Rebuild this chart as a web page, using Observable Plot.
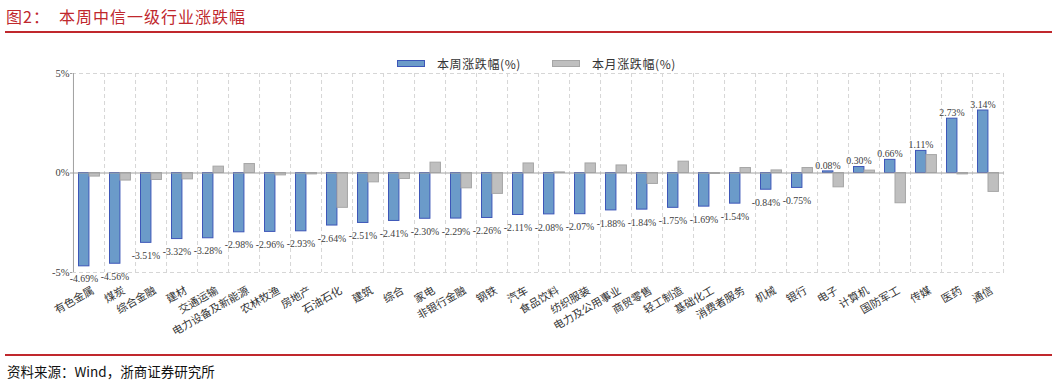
<!DOCTYPE html>
<html>
<head>
<meta charset="utf-8">
<script src="https://cdn.jsdelivr.net/npm/d3@7"></script>
<script src="https://cdn.jsdelivr.net/npm/@observablehq/plot@0.6"></script>
<style>
  html, body { margin: 0; padding: 0; background: #fff; }
  #wrap { position: relative; width: 1057px; height: 385px; overflow: hidden; background: #fff; }
  .title { position: absolute; left: 6px; top: 4px; font-family: "Noto Sans CJK SC", sans-serif; font-size: 16px; color: #c0282d; white-space: pre; letter-spacing: 1px; }
  .rline { position: absolute; left: 5px; width: 1047px; height: 1.5px; background: #c0282d; }
  .source { position: absolute; left: 7px; top: 361px; font-family: "Noto Sans CJK SC", sans-serif; font-size: 13.5px; color: #111; white-space: pre; }
  .legend { position: absolute; top: 55px; left: 0; font-family: "Noto Sans CJK SC", sans-serif; font-size: 12px; color: #333; }
  .legend .sw { position: absolute; width: 28px; height: 7px; top: 5px; }
  .legend .lt { position: absolute; top: 0; white-space: pre; letter-spacing: 0.6px; }
  #chart { position: absolute; left: 0; top: 66px; }
</style>
</head>
<body>
<div id="wrap">
  <div class="title">图2：  本周中信一级行业涨跌幅</div>
  <div class="rline" style="top:31px"></div>
  <div class="legend" id="legend"></div>
  <div id="chart"></div>
  <div class="rline" style="top:354px"></div>
  <div class="source">资料来源：Wind，浙商证券研究所</div>
</div>
<script>
const categories = ["有色金属","煤炭","综合金融","建材","交通运输","电力设备及新能源","农林牧渔","房地产","石油石化","建筑","综合","家电","非银行金融","钢铁","汽车","食品饮料","纺织服装","电力及公用事业","商贸零售","轻工制造","基础化工","消费者服务","机械","银行","电子","计算机","国防军工","传媒","医药","通信"];
const weekChange = [-4.69,-4.56,-3.51,-3.32,-3.28,-2.98,-2.96,-2.93,-2.64,-2.51,-2.41,-2.30,-2.29,-2.26,-2.11,-2.08,-2.07,-1.88,-1.84,-1.75,-1.69,-1.54,-0.84,-0.75,0.08,0.30,0.66,1.11,2.73,3.14];
const monthChange = [-0.18,-0.38,-0.35,-0.32,0.32,0.45,-0.12,-0.07,-1.75,-0.47,-0.30,0.52,-0.77,-1.05,0.48,0.03,0.48,0.38,-0.55,0.57,-0.05,0.25,0.13,0.25,-0.72,0.12,-1.52,0.90,-0.07,-0.95];
const seriesNames = ["本周涨跌幅(%)","本月涨跌幅(%)"];
const yTicks = [-5, 0, 5];

const data = categories.map((c, i) => ({cat: c, week: weekChange[i], month: monthChange[i]}));

const W = 1057, H = 280, ML = 72, MR = 53, MT = 7, MB = 74;
const bw = (W - ML - MR) / categories.length;
const blueFill = "#6b9bc9", blueStroke = "#3d56b8";
const grayFill = "#bfbfbf", grayStroke = "#a6a6a6";
const serif = "'Liberation Serif', 'Times New Roman', serif";

const fmt = d => d.toFixed(2) + "%";
const labelDx = 10.5 - bw / 2;

const chart = Plot.plot({
  width: W, height: H,
  marginLeft: ML, marginRight: MR, marginTop: MT, marginBottom: MB,
  x: {domain: categories, padding: 0, label: null},
  y: {domain: [-5, 5], label: null},
  style: {background: "transparent", overflow: "visible"},
  marks: [
    Plot.ruleX(categories, {x: d => d, dx: bw / 2, stroke: "#d6d6d6", strokeDasharray: "4,3"}),
    Plot.ruleY([-5, 5], {stroke: "#d6d6d6", strokeDasharray: "4,3"}),
    Plot.barY(data, {x: "cat", y: "week", fill: blueFill, stroke: blueStroke, strokeWidth: 1, insetLeft: 5.5, insetRight: bw - 16}),
    Plot.barY(data, {x: "cat", y: "month", fill: grayFill, stroke: grayStroke, strokeWidth: 1, insetLeft: 16, insetRight: bw - 26.5}),
    Plot.ruleY([0], {stroke: "#a0a0a0", strokeWidth: 1}),
    Plot.ruleX([categories[0]], {x: d => d, dx: -bw / 2, stroke: "#a0a0a0"}),
    Plot.text(data.filter(d => d.week < 0), {x: "cat", y: "week", text: d => fmt(d.week), dx: labelDx, dy: 13, fontFamily: serif, fontSize: 9.8, fill: "#404040"}),
    Plot.text(data.filter(d => d.week >= 0), {x: "cat", y: "week", text: d => fmt(d.week), dx: labelDx, dy: -6, fontFamily: serif, fontSize: 9.8, fill: "#404040"}),
    Plot.axisY({ticks: yTicks, tickFormat: d => d + "%", tickSize: 2, tickPadding: 1, fontFamily: serif, fontSize: 10.5, color: "#404040", stroke: "#a0a0a0"}),
    Plot.axisX({tickRotate: -30, tickSize: 0, tickPadding: 17, dx: 4, fontFamily: "'Noto Sans CJK SC', sans-serif", fontSize: 10.8, fill: "#333"})
  ]
});
document.getElementById("chart").appendChild(chart);

// legend
const legend = document.getElementById("legend");
const legendItems = [
  {name: seriesNames[0], fill: blueFill, stroke: blueStroke, sx: 397, tx: 437},
  {name: seriesNames[1], fill: grayFill, stroke: grayStroke, sx: 552, tx: 592}
];
legendItems.forEach(it => {
  const sw = document.createElement("div");
  sw.className = "sw";
  sw.style.left = it.sx + "px";
  sw.style.background = it.fill;
  sw.style.boxSizing = "border-box";
  sw.style.border = "1px solid " + it.stroke;
  legend.appendChild(sw);
  const t = document.createElement("div");
  t.className = "lt";
  t.style.left = it.tx + "px";
  t.textContent = it.name;
  legend.appendChild(t);
});
</script>
</body>
</html>
